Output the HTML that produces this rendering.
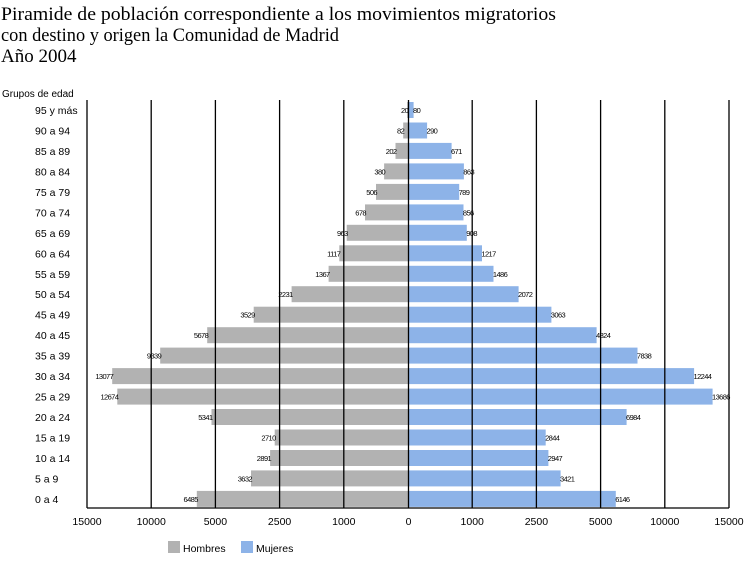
<!DOCTYPE html>
<html><head><meta charset="utf-8"><style>
html,body{margin:0;padding:0;background:#fff;}
svg{display:block;}
.t{font-family:"Liberation Serif",serif;font-size:19px;fill:#000;}
.s{font-family:"Liberation Sans",sans-serif;font-size:10.5px;fill:#000;}
.v{font-family:"Liberation Sans",sans-serif;font-size:7.5px;fill:#000;letter-spacing:-0.6px;}
.m{fill:#b2b2b2;} .w{fill:#8db3e8;}
</style></head><body>
<svg width="748" height="562" viewBox="0 0 748 562" xmlns="http://www.w3.org/2000/svg">
<text class="t" x="1" y="20" textLength="555" lengthAdjust="spacingAndGlyphs">Piramide de población correspondiente a los movimientos migratorios</text>
<text class="t" x="1" y="41" textLength="338" lengthAdjust="spacingAndGlyphs">con destino y origen la Comunidad de Madrid</text>
<text class="t" x="1" y="62">Año 2004</text>
<text class="s" x="2" y="97" style="font-size:10px">Grupos de edad</text>

<g>
<rect class="m" x="407.2" y="102" width="1.3" height="16"/><rect class="w" x="408.5" y="102" width="5.1" height="16"/>
<rect class="m" x="403.2" y="122.5" width="5.3" height="16"/><rect class="w" x="408.5" y="122.5" width="18.6" height="16"/>
<rect class="m" x="395.5" y="142.9" width="13" height="16"/><rect class="w" x="408.5" y="142.9" width="43.1" height="16"/>
<rect class="m" x="384.1" y="163.4" width="24.4" height="16"/><rect class="w" x="408.5" y="163.4" width="55.4" height="16"/>
<rect class="m" x="376" y="183.9" width="32.5" height="16"/><rect class="w" x="408.5" y="183.9" width="50.7" height="16"/>
<rect class="m" x="365" y="204.4" width="43.5" height="16"/><rect class="w" x="408.5" y="204.4" width="55" height="16"/>
<rect class="m" x="346.7" y="224.8" width="61.8" height="16"/><rect class="w" x="408.5" y="224.8" width="58.3" height="16"/>
<rect class="m" x="339.3" y="245.3" width="69.2" height="16"/><rect class="w" x="408.5" y="245.3" width="73.5" height="16"/>
<rect class="m" x="328.6" y="265.8" width="79.9" height="16"/><rect class="w" x="408.5" y="265.8" width="85" height="16"/>
<rect class="m" x="291.6" y="286.2" width="116.9" height="16"/><rect class="w" x="408.5" y="286.2" width="110.1" height="16"/>
<rect class="m" x="253.7" y="306.7" width="154.8" height="16"/><rect class="w" x="408.5" y="306.7" width="142.9" height="16"/>
<rect class="m" x="207.2" y="327.2" width="201.3" height="16"/><rect class="w" x="408.5" y="327.2" width="188.1" height="16"/>
<rect class="m" x="160.2" y="347.6" width="248.3" height="16"/><rect class="w" x="408.5" y="347.6" width="229" height="16"/>
<rect class="m" x="112.2" y="368.1" width="296.3" height="16"/><rect class="w" x="408.5" y="368.1" width="285.6" height="16"/>
<rect class="m" x="117.3" y="388.6" width="291.2" height="16"/><rect class="w" x="408.5" y="388.6" width="304.1" height="16"/>
<rect class="m" x="211.5" y="409" width="197" height="16"/><rect class="w" x="408.5" y="409" width="218.1" height="16"/>
<rect class="m" x="274.7" y="429.5" width="133.8" height="16"/><rect class="w" x="408.5" y="429.5" width="137.2" height="16"/>
<rect class="m" x="270.1" y="450" width="138.4" height="16"/><rect class="w" x="408.5" y="450" width="139.9" height="16"/>
<rect class="m" x="251" y="470.4" width="157.5" height="16"/><rect class="w" x="408.5" y="470.4" width="152.1" height="16"/>
<rect class="m" x="196.8" y="490.9" width="211.7" height="16"/><rect class="w" x="408.5" y="490.9" width="207.3" height="16"/>
</g>

<g stroke="#000" stroke-width="1.3">
<line x1="87" y1="100" x2="87" y2="508"/>
<line x1="151.2" y1="100" x2="151.2" y2="508"/>
<line x1="215.4" y1="100" x2="215.4" y2="508"/>
<line x1="279.6" y1="100" x2="279.6" y2="508"/>
<line x1="343.8" y1="100" x2="343.8" y2="508"/>
<line x1="408.5" y1="100" x2="408.5" y2="508"/>
<line x1="472.2" y1="100" x2="472.2" y2="508"/>
<line x1="536.4" y1="100" x2="536.4" y2="508"/>
<line x1="600.6" y1="100" x2="600.6" y2="508"/>
<line x1="664.8" y1="100" x2="664.8" y2="508"/>
<line x1="729" y1="100" x2="729" y2="508"/>
<line x1="87" y1="508" x2="729" y2="508"/>
</g>

<g class="v">
<g text-anchor="end">
<text x="408.2" y="113">20</text>
<text x="404.2" y="133.5">82</text>
<text x="396.5" y="153.9">202</text>
<text x="385.1" y="174.4">380</text>
<text x="377" y="194.9">506</text>
<text x="366" y="215.4">678</text>
<text x="347.7" y="235.8">963</text>
<text x="340.3" y="256.3">1117</text>
<text x="329.6" y="276.8">1367</text>
<text x="292.6" y="297.2">2231</text>
<text x="254.7" y="317.7">3529</text>
<text x="208.2" y="338.2">5678</text>
<text x="161.2" y="358.6">9339</text>
<text x="113.2" y="379.1">13077</text>
<text x="118.3" y="399.6">12674</text>
<text x="212.5" y="420">5341</text>
<text x="275.7" y="440.5">2710</text>
<text x="271.1" y="461">2891</text>
<text x="252" y="481.4">3632</text>
<text x="197.8" y="501.9">6485</text>
</g>
<text x="413" y="113">80</text>
<text x="426.5" y="133.5">290</text>
<text x="451" y="153.9">671</text>
<text x="463.3" y="174.4">863</text>
<text x="458.6" y="194.9">789</text>
<text x="462.9" y="215.4">856</text>
<text x="466.2" y="235.8">908</text>
<text x="481.4" y="256.3">1217</text>
<text x="492.9" y="276.8">1486</text>
<text x="518" y="297.2">2072</text>
<text x="550.8" y="317.7">3063</text>
<text x="596" y="338.2">4824</text>
<text x="636.9" y="358.6">7838</text>
<text x="693.5" y="379.1">12244</text>
<text x="712" y="399.6">13686</text>
<text x="626" y="420">6984</text>
<text x="545.1" y="440.5">2844</text>
<text x="547.8" y="461">2947</text>
<text x="560" y="481.4">3421</text>
<text x="615.2" y="501.9">6146</text>
</g>

<g class="s">
<text x="35" y="114">95 y más</text>
<text x="35" y="134.5">90 a 94</text>
<text x="35" y="154.9">85 a 89</text>
<text x="35" y="175.4">80 a 84</text>
<text x="35" y="195.9">75 a 79</text>
<text x="35" y="216.4">70 a 74</text>
<text x="35" y="236.8">65 a 69</text>
<text x="35" y="257.3">60 a 64</text>
<text x="35" y="277.8">55 a 59</text>
<text x="35" y="298.2">50 a 54</text>
<text x="35" y="318.7">45 a 49</text>
<text x="35" y="339.2">40 a 45</text>
<text x="35" y="359.6">35 a 39</text>
<text x="35" y="380.1">30 a 34</text>
<text x="35" y="400.6">25 a 29</text>
<text x="35" y="421">20 a 24</text>
<text x="35" y="441.5">15 a 19</text>
<text x="35" y="462">10 a 14</text>
<text x="35" y="482.4">5 a 9</text>
<text x="35" y="502.9">0 a 4</text>
</g>

<g class="s" text-anchor="middle">
<text x="87" y="525">15000</text>
<text x="151.2" y="525">10000</text>
<text x="215.4" y="525">5000</text>
<text x="279.6" y="525">2500</text>
<text x="343.8" y="525">1000</text>
<text x="408.5" y="525">0</text>
<text x="472.2" y="525">1000</text>
<text x="536.4" y="525">2500</text>
<text x="600.6" y="525">5000</text>
<text x="664.8" y="525">10000</text>
<text x="729" y="525">15000</text>
</g>

<rect class="m" x="168" y="541" width="12" height="12"/>
<text class="s" x="183" y="552">Hombres</text>
<rect class="w" x="241" y="541" width="12" height="12"/>
<text class="s" x="256" y="552">Mujeres</text>
</svg>
</body></html>
